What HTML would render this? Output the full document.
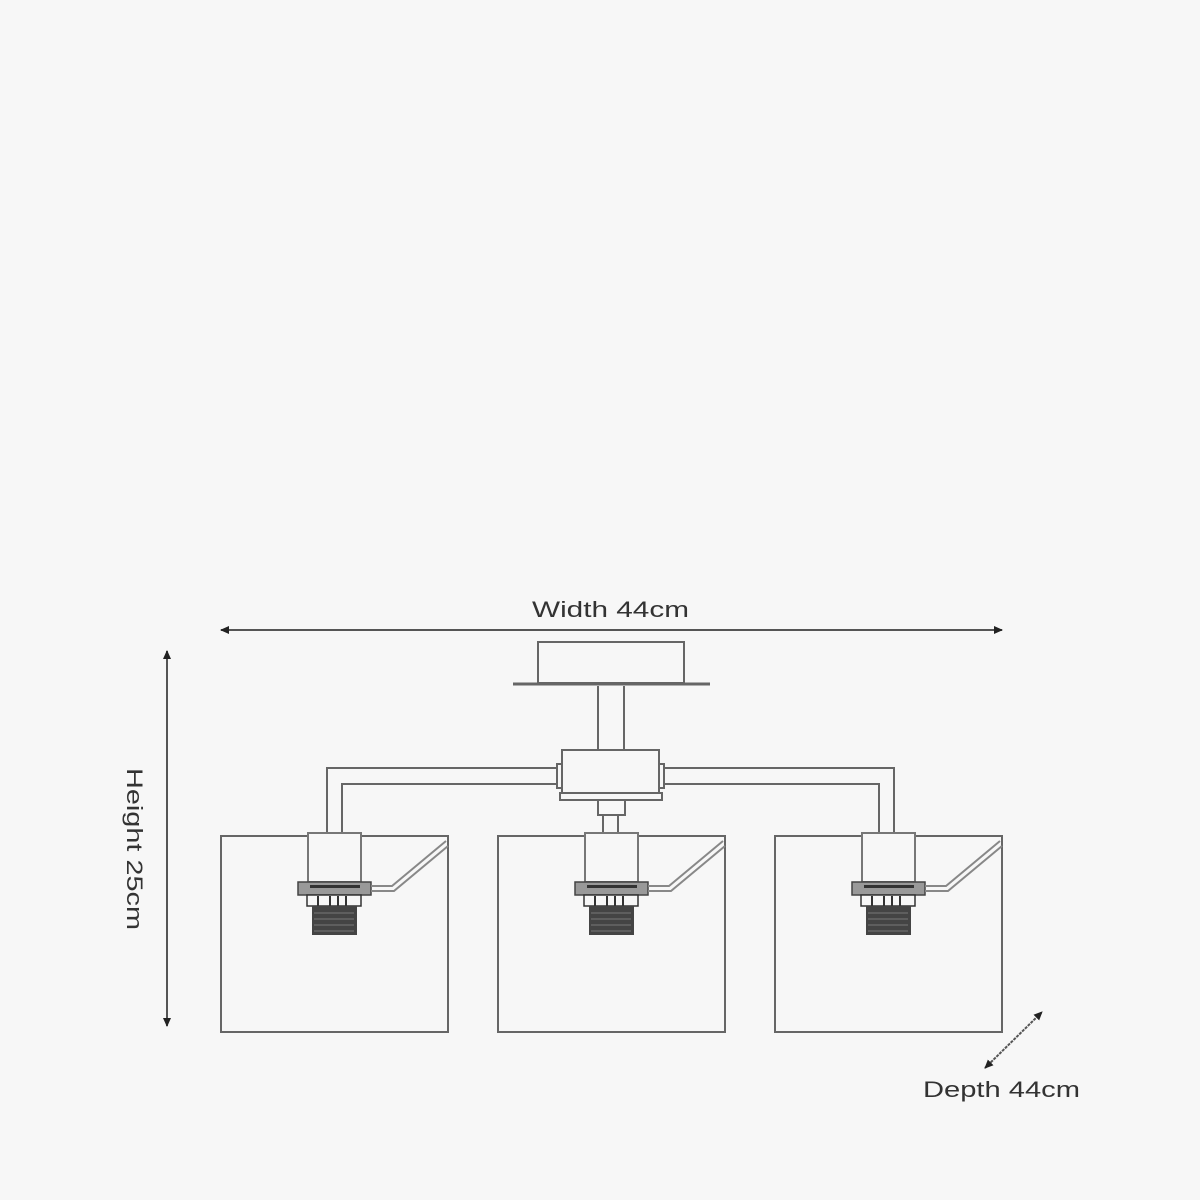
<!DOCTYPE html>
<html><head><style>html,body{margin:0;padding:0;background:#f7f7f7}svg{display:block}</style></head>
<body>
<svg width="1200" height="1200" viewBox="0 0 1200 1200" xmlns="http://www.w3.org/2000/svg">
<rect width="1200" height="1200" fill="#f7f7f7"/>
<defs>
<marker id="a" markerWidth="9" markerHeight="8" refX="8" refY="4" orient="auto-start-reverse" markerUnits="userSpaceOnUse"><path d="M0,0 L9,4 L0,8 Z" fill="#222"/></marker>
<g id="sock">
  <rect x="308" y="833" width="53" height="49" fill="#f7f7f7" stroke="#777" stroke-width="2"/>
  <rect x="298" y="882" width="73" height="13" fill="#999" stroke="#444" stroke-width="1.5"/>
  <rect x="310" y="885" width="50" height="3" fill="#333"/>
  <rect x="307" y="895" width="54" height="11" fill="#f7f7f7" stroke="#333" stroke-width="1.5"/>
  <path d="M318,896v10M330,896v10M338,896v10M346,896v10" stroke="#333" stroke-width="2"/>
  <rect x="312" y="906" width="45" height="29" fill="#444"/>
  <path d="M314,913h40M314,919h40M314,925h40M314,931h40" stroke="#777" stroke-width="1"/>
  <path d="M371,886 L392,886 L446,841 M371,891 L394,891 L448,846" stroke="#888" stroke-width="2" fill="none"/>
</g>
</defs>
<g stroke="#666" stroke-width="2" fill="none">
  <rect x="221" y="836" width="227" height="196"/>
  <rect x="498" y="836" width="227" height="196"/>
  <rect x="775" y="836" width="227" height="196"/>
  <rect x="538" y="642" width="146" height="41" fill="#f7f7f7"/>
  <path d="M513,684 H710" stroke-width="3"/>
  <path d="M598,686 V750 M624,686 V750"/>
  <path d="M562,768 H327 V833 M562,784 H342 V833"/>
  <path d="M659,768 H894 V833 M659,784 H879 V833"/>
  <rect x="562" y="750" width="97" height="43" fill="#f7f7f7"/>
  <rect x="557" y="764" width="5" height="24" fill="#f7f7f7"/>
  <rect x="659" y="764" width="5" height="24" fill="#f7f7f7"/>
  <rect x="560" y="793" width="102" height="7" fill="#f7f7f7"/>
  <rect x="598" y="800" width="27" height="15"/>
  <path d="M603,815 V833 M618,815 V833"/>
</g>
<use href="#sock"/>
<use href="#sock" x="277"/>
<use href="#sock" x="554"/>
<g stroke="#555" stroke-width="2">
  <line x1="221" y1="630" x2="1002" y2="630" marker-start="url(#a)" marker-end="url(#a)"/>
  <line x1="167" y1="651" x2="167" y2="1026" marker-start="url(#a)" marker-end="url(#a)"/>
  <line x1="985" y1="1068" x2="1042" y2="1012" stroke-dasharray="3,1" marker-start="url(#a)" marker-end="url(#a)"/>
</g>
<g font-family="Liberation Sans, sans-serif" font-size="22" fill="#333">
  <text x="532" y="617" textLength="157" lengthAdjust="spacingAndGlyphs">Width 44cm</text>
  <text x="923" y="1097" textLength="157" lengthAdjust="spacingAndGlyphs">Depth 44cm</text>
  <text transform="translate(127,768) rotate(90)" x="0" y="0" textLength="162" lengthAdjust="spacingAndGlyphs">Height 25cm</text>
</g>
</svg>
</body></html>
